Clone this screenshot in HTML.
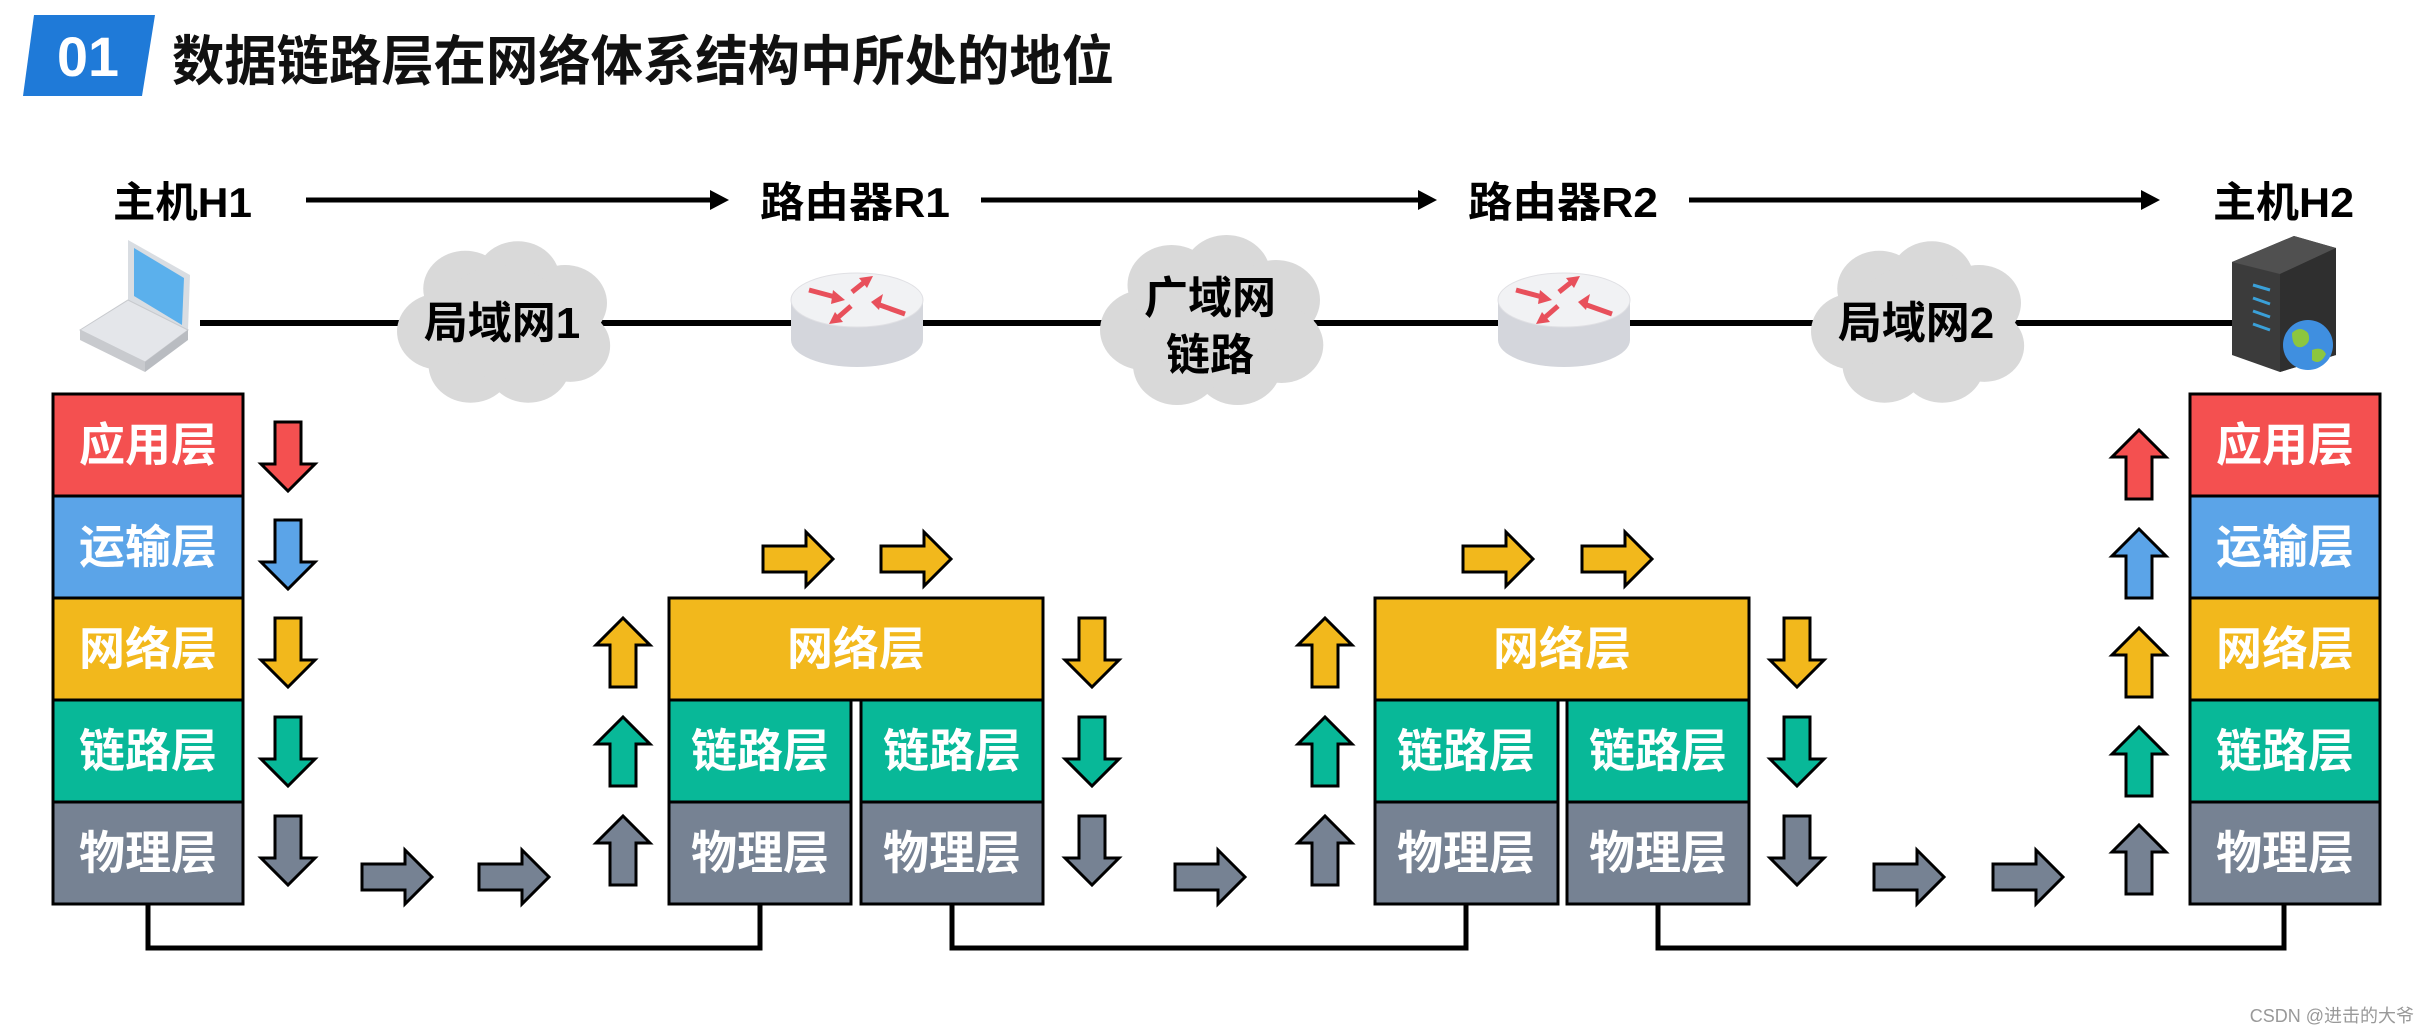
<!DOCTYPE html>
<html><head><meta charset="utf-8"><style>
html,body{margin:0;padding:0;background:#fff;}
svg{display:block;}
text{font-family:"Liberation Sans","Noto Sans CJK SC",sans-serif;font-weight:bold;}
</style></head><body>
<svg width="2423" height="1036" viewBox="0 0 2423 1036" xmlns="http://www.w3.org/2000/svg">
<defs>
<path id="dn" d="M-13,0 H13 V42 H27 L0,69 L-27,42 H-13 Z" stroke="#000" stroke-width="3"/>
<path id="up" d="M-13,69 H13 V27 H27 L0,0 L-27,27 H-13 Z" stroke="#000" stroke-width="3"/>
<path id="rt" d="M0,-13 H43 V-27 L70,0 L43,27 V13 H0 Z" stroke="#000" stroke-width="3"/>
<g id="cloud">
<circle cx="-60" cy="10" r="40"/><circle cx="-35" cy="-35" r="40"/><circle cx="15" cy="-45" r="40"/><circle cx="60" cy="-20" r="40"/><circle cx="65" cy="25" r="38"/><circle cx="25" cy="45" r="40"/><circle cx="-30" cy="45" r="40"/><circle cx="0" cy="0" r="60"/>
</g>
<g id="router">
<path d="M-66,0 V40 A66,27 0 0 0 66,40 V0 Z" fill="#d4d6dc"/>
<ellipse cx="0" cy="0" rx="66" ry="27" fill="#f1f2f4" stroke="#e0e0e4"/>
<g fill="#e8505b" stroke="#e8505b" stroke-width="5">
<line x1="-48" y1="-10" x2="-18" y2="-2"/><polygon points="-12,0 -24,-10 -26,4" stroke="none"/>
<line x1="-5" y1="-8" x2="10" y2="-20"/><polygon points="16,-24 2,-22 10,-12" stroke="none"/>
<line x1="48" y1="14" x2="20" y2="4"/><polygon points="14,2 26,-6 22,10" stroke="none"/>
<line x1="-6" y1="6" x2="-22" y2="20"/><polygon points="-28,24 -14,22 -22,12" stroke="none"/>
</g>
</g>
</defs>

<polygon points="34,15 155,15 142,96 23,96" fill="#1f7ad8"/>
<text x="88" y="76" font-size="56" fill="#fff" text-anchor="middle" textLength="62" lengthAdjust="spacingAndGlyphs">01</text>
<text x="172" y="80" font-size="54" fill="#111" textLength="942" lengthAdjust="spacingAndGlyphs">数据链路层在网络体系结构中所处的地位</text>

<g font-size="42" fill="#000">
<text x="113" y="217" textLength="139" lengthAdjust="spacingAndGlyphs">主机H1</text>
<text x="760" y="217" textLength="190" lengthAdjust="spacingAndGlyphs">路由器R1</text>
<text x="1468" y="217" textLength="190" lengthAdjust="spacingAndGlyphs">路由器R2</text>
<text x="2213" y="217" textLength="141" lengthAdjust="spacingAndGlyphs">主机H2</text>
</g>
<g stroke="#000" stroke-width="5">
<line x1="306" y1="200" x2="715" y2="200"/><line x1="981" y1="200" x2="1423" y2="200"/><line x1="1689" y1="200" x2="2146" y2="200"/>
</g>
<g fill="#000">
<polygon points="729,200 710,190 710,210"/><polygon points="1437,200 1418,190 1418,210"/><polygon points="2160,200 2141,190 2141,210"/>
</g>

<line x1="200" y1="323" x2="2235" y2="323" stroke="#000" stroke-width="6"/>

<g fill="#d9d9d9">
<use href="#cloud" transform="translate(502,322) scale(1.05,0.95)"/>
<use href="#cloud" transform="translate(1210,320) scale(1.1,1.0)"/>
<use href="#cloud" transform="translate(1916,322) scale(1.05,0.95)"/>
</g>
<g font-size="44" fill="#000" text-anchor="middle">
<text x="502" y="338">局域网1</text>
<text x="1210" y="313">广域网</text>
<text x="1210" y="370">链路</text>
<text x="1916" y="338">局域网2</text>
</g>

<use href="#router" transform="translate(857,300)"/>
<use href="#router" transform="translate(1564,300)"/>

<g>
<polygon points="128,240 190,275 188,330 128,300" fill="#d9dde2"/>
<polygon points="134,248 184,278 182,325 134,296" fill="#5bb0ec"/>
<polygon points="80,330 128,300 188,330 145,362" fill="#e4e6ea" stroke="#c8cace"/>
<polygon points="80,330 145,362 145,372 80,340" fill="#c8cace"/>
<polygon points="145,362 188,330 188,340 145,372" fill="#b9bcc1"/>
</g>

<g>
<polygon points="2232,262 2294,236 2336,248 2336,355 2280,372 2232,355" fill="#3b3b3b"/>
<polygon points="2232,262 2294,236 2336,248 2280,274" fill="#505050"/>
<polygon points="2280,274 2336,248 2336,355 2280,372" fill="#2f2f2f"/>
<g stroke="#3aa0d8" stroke-width="3"><line x1="2253" y1="285" x2="2270" y2="290"/><line x1="2253" y1="298" x2="2270" y2="304"/><line x1="2253" y1="311" x2="2270" y2="317"/><line x1="2253" y1="324" x2="2270" y2="330"/></g>
<circle cx="2308" cy="345" r="25" fill="#3f8fe0"/>
<path d="M2292,333 q8,-8 16,0 q4,10 -6,14 q-10,2 -10,-14Z M2312,350 q10,-4 14,4 q-6,12 -14,6Z" fill="#8cc63f"/>
</g>

<g stroke="#000" stroke-width="3">
<rect x="53" y="394" width="190" height="102" fill="#f45050"/>
<rect x="53" y="496" width="190" height="102" fill="#5ba4e8"/>
<rect x="53" y="598" width="190" height="102" fill="#f2b81c"/>
<rect x="53" y="700" width="190" height="102" fill="#08b898"/>
<rect x="53" y="802" width="190" height="102" fill="#768293"/>

<rect x="2190" y="394" width="190" height="102" fill="#f45050"/>
<rect x="2190" y="496" width="190" height="102" fill="#5ba4e8"/>
<rect x="2190" y="598" width="190" height="102" fill="#f2b81c"/>
<rect x="2190" y="700" width="190" height="102" fill="#08b898"/>
<rect x="2190" y="802" width="190" height="102" fill="#768293"/>

<rect x="669" y="598" width="374" height="102" fill="#f2b81c"/>
<rect x="669" y="700" width="182" height="102" fill="#08b898"/>
<rect x="861" y="700" width="182" height="102" fill="#08b898"/>
<rect x="669" y="802" width="182" height="102" fill="#768293"/>
<rect x="861" y="802" width="182" height="102" fill="#768293"/>

<rect x="1375" y="598" width="374" height="102" fill="#f2b81c"/>
<rect x="1375" y="700" width="183" height="102" fill="#08b898"/>
<rect x="1567" y="700" width="182" height="102" fill="#08b898"/>
<rect x="1375" y="802" width="183" height="102" fill="#768293"/>
<rect x="1567" y="802" width="182" height="102" fill="#768293"/>
</g>
<g font-size="46" fill="#fff" text-anchor="middle">
<text x="148" y="461">应用层</text>
<text x="148" y="563">运输层</text>
<text x="148" y="665">网络层</text>
<text x="148" y="767">链路层</text>
<text x="148" y="869">物理层</text>
<text x="2285" y="461">应用层</text>
<text x="2285" y="563">运输层</text>
<text x="2285" y="665">网络层</text>
<text x="2285" y="767">链路层</text>
<text x="2285" y="869">物理层</text>
<text x="856" y="665">网络层</text>
<text x="760" y="767">链路层</text>
<text x="952" y="767">链路层</text>
<text x="760" y="869">物理层</text>
<text x="952" y="869">物理层</text>
<text x="1562" y="665">网络层</text>
<text x="1466" y="767">链路层</text>
<text x="1658" y="767">链路层</text>
<text x="1466" y="869">物理层</text>
<text x="1658" y="869">物理层</text>
</g>

<use href="#dn" x="288" y="422" fill="#f45050"/>
<use href="#dn" x="288" y="520" fill="#5ba4e8"/>
<use href="#dn" x="288" y="618" fill="#f2b81c"/>
<use href="#dn" x="288" y="717" fill="#08b898"/>
<use href="#dn" x="288" y="816" fill="#768293"/>

<use href="#up" x="623" y="618" fill="#f2b81c"/>
<use href="#up" x="623" y="717" fill="#08b898"/>
<use href="#up" x="623" y="816" fill="#768293"/>
<use href="#dn" x="1092" y="618" fill="#f2b81c"/>
<use href="#dn" x="1092" y="717" fill="#08b898"/>
<use href="#dn" x="1092" y="816" fill="#768293"/>

<use href="#up" x="1325" y="618" fill="#f2b81c"/>
<use href="#up" x="1325" y="717" fill="#08b898"/>
<use href="#up" x="1325" y="816" fill="#768293"/>
<use href="#dn" x="1797" y="618" fill="#f2b81c"/>
<use href="#dn" x="1797" y="717" fill="#08b898"/>
<use href="#dn" x="1797" y="816" fill="#768293"/>

<use href="#up" x="2139" y="430" fill="#f45050"/>
<use href="#up" x="2139" y="529" fill="#5ba4e8"/>
<use href="#up" x="2139" y="628" fill="#f2b81c"/>
<use href="#up" x="2139" y="727" fill="#08b898"/>
<use href="#up" x="2139" y="825" fill="#768293"/>

<use href="#rt" x="362" y="877" fill="#768293"/>
<use href="#rt" x="479" y="877" fill="#768293"/>
<use href="#rt" x="1175" y="877" fill="#768293"/>
<use href="#rt" x="1874" y="877" fill="#768293"/>
<use href="#rt" x="1993" y="877" fill="#768293"/>
<use href="#rt" x="763" y="559" fill="#f2b81c"/>
<use href="#rt" x="881" y="559" fill="#f2b81c"/>
<use href="#rt" x="1463" y="559" fill="#f2b81c"/>
<use href="#rt" x="1582" y="559" fill="#f2b81c"/>

<g fill="none" stroke="#000" stroke-width="5">
<polyline points="148,904 148,948 760,948 760,904"/>
<polyline points="952,904 952,948 1466,948 1466,904"/>
<polyline points="1658,904 1658,948 2284,948 2284,904"/>
</g>

<text x="2414" y="1022" font-size="18" fill="#999" text-anchor="end" style="font-weight:normal">CSDN @进击的大爷</text>
</svg>
</body></html>
